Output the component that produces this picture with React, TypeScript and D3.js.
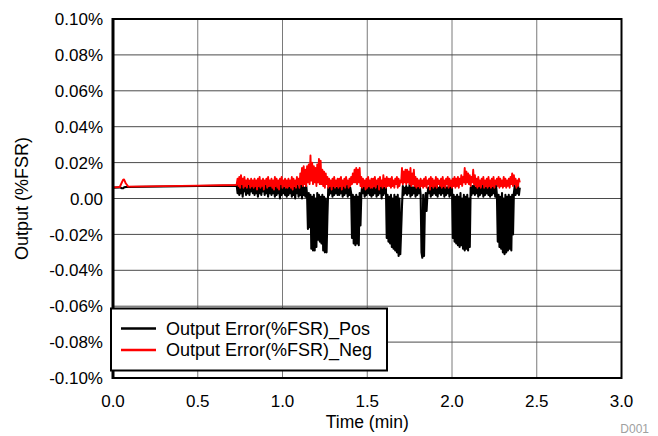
import React from "react";
import * as d3 from "d3";

// ---- axis ticks ----
const xTicks = [0, 0.5, 1.0, 1.5, 2.0, 2.5, 3.0];
const yTicks = [0.1, 0.08, 0.06, 0.04, 0.02, 0, -0.02, -0.04, -0.06, -0.08, -0.1];
const yTickLabels = ["0.10%", "0.08%", "0.06%", "0.04%", "0.02%", "0.00", "-0.02%", "-0.04%", "-0.06%", "-0.08%", "-0.10%"];
const seriesNames = ["Output Error(%FSR)_Pos", "Output Error(%FSR)_Neg"];

// ---- quiet start (time in min, value in %FSR) ----
const headTime = [0, 0.04, 0.05, 0.06, 0.065, 0.075, 0.09, 0.3, 0.5, 0.725];
const headPos = [0.006, 0.0062, 0.0058, 0.0057, 0.0062, 0.0064, 0.0064, 0.0067, 0.007, 0.0072];
const headNeg = [0.0062, 0.0064, 0.0085, 0.0105, 0.0106, 0.0085, 0.0066, 0.0069, 0.0072, 0.0075];

// ---- noisy section, sampled every 0.005 min starting at 0.73 min ----
const noiseStart = 0.73;
const noiseStep = 0.005;
const noisePos = [
  0.007, 0.003, 0.008, 0.002, 0.006, 0.003, 0.008, 0.001, 0.007, 0.004, 0.008, 0.002, 0.006, 0.003, 0.009, 0.002, 0.007, 0.004, 0.008, 0.003,
  0.006, 0.002, 0.008, 0.003, 0.007, 0.001, 0.006, 0.003, 0.008, 0.002, 0.007, 0.004, 0.006, 0.002, 0.008, 0.003, 0.007, 0.001, 0.006, 0.003,
  0.008, 0.002, 0.007, 0.003, 0.006, 0.001, 0.008, 0.002, 0.007, 0.003, 0.006, 0.000, 0.008, 0.002, 0.007, 0.003, 0.006, 0.002, 0.008, 0.001,
  0.007, 0.002, 0.006, 0.003, 0.008, 0.001, 0.007, 0.002, 0.006, 0.000, 0.008, 0.003, 0.007, 0.001, 0.006, 0.002, 0.008, 0.000, 0.007, 0.002,
  0.006, 0.001, 0.007, 0.002, -0.017, 0.003, -0.016, 0.002, -0.028, 0.001, -0.029, 0.002, -0.029, 0.000, -0.027, 0.003, -0.023, 0.002, -0.024, 0.001,
  -0.025, 0.002, -0.029, 0.001, -0.030, 0.000, -0.030, -0.010, 0.006, 0.002, 0.007, 0.003, 0.006, 0.001, 0.008, 0.002, 0.007, 0.003, 0.006, 0.002,
  0.007, 0.002, 0.006, 0.003, 0.008, 0.001, 0.007, 0.002, 0.006, 0.003, 0.007, 0.001, 0.008, 0.002, 0.006, 0.003, -0.022, 0.002, -0.025, 0.001,
  -0.026, 0.002, -0.025, 0.001, -0.026, 0.003, -0.015, 0.002, 0.007, 0.003, 0.006, 0.001, 0.008, 0.002, 0.007, 0.003, 0.006, 0.002, 0.008, 0.001,
  0.007, 0.002, 0.006, 0.003, 0.008, 0.001, 0.007, 0.002, 0.006, 0.003, 0.007, 0.000, 0.008, 0.002, 0.006, 0.003, 0.007, -0.022, 0.002, -0.024,
  0.001, -0.025, 0.002, -0.027, 0.000, -0.028, 0.002, -0.029, 0.001, -0.030, 0.002, -0.032, 0.000, -0.031, -0.018, -0.004, 0.007, 0.002, 0.006, 0.003,
  0.007, 0.002, 0.006, 0.003, 0.008, 0.001, 0.007, 0.002, 0.006, 0.003, 0.007, 0.001, 0.008, 0.002, 0.006, 0.003, 0.007, 0.002, -0.030, -0.033,
  0.002, -0.032, -0.005, 0.003, -0.007, 0.002, 0.006, 0.003, 0.007, 0.001, 0.008, 0.002, 0.006, 0.003, 0.007, 0.002, 0.008, 0.001, 0.006, 0.003,
  0.007, 0.002, 0.006, 0.003, 0.008, 0.001, 0.007, 0.002, 0.006, 0.003, 0.007, 0.001, 0.008, 0.002, 0.006, -0.022, 0.002, -0.024, 0.001, -0.025,
  0.002, -0.026, 0.001, -0.027, 0.003, -0.026, 0.000, -0.028, 0.002, -0.029, 0.001, -0.028, 0.002, -0.029, 0.000, -0.027, 0.006, 0.002, 0.007, 0.003,
  0.007, 0.002, 0.006, 0.003, 0.008, 0.001, 0.007, 0.002, 0.006, 0.003, 0.007, 0.001, 0.008, 0.002, 0.006, 0.003, 0.007, 0.002, 0.008, 0.001,
  0.007, 0.002, 0.006, 0.003, 0.008, 0.001, 0.007, 0.002, -0.024, 0.002, -0.027, 0.001, -0.028, 0.003, -0.030, 0.000, -0.031, 0.002, -0.030, 0.001,
  -0.029, 0.002, -0.028, 0.001, -0.029, 0.002, -0.020, 0.003, 0.007, 0.002, 0.006, 0.003, 0.007, 0.002, 0.006,
];
const noiseNeg = [
  0.008, 0.011, 0.007, 0.012, 0.006, 0.013, 0.008, 0.011, 0.006, 0.012, 0.007, 0.010, 0.006, 0.011, 0.008, 0.010, 0.006, 0.011, 0.007, 0.010,
  0.006, 0.011, 0.007, 0.010, 0.005, 0.011, 0.007, 0.012, 0.006, 0.010, 0.007, 0.011, 0.005, 0.010, 0.008, 0.011, 0.006, 0.012, 0.007, 0.010,
  0.007, 0.011, 0.006, 0.010, 0.005, 0.012, 0.007, 0.011, 0.006, 0.010, 0.005, 0.011, 0.008, 0.012, 0.006, 0.010, 0.007, 0.011, 0.006, 0.010,
  0.006, 0.011, 0.007, 0.010, 0.006, 0.012, 0.005, 0.011, 0.007, 0.010, 0.006, 0.012, 0.008, 0.011, 0.006, 0.014, 0.008, 0.017, 0.007, 0.018,
  0.008, 0.016, 0.007, 0.018, 0.009, 0.019, 0.008, 0.024, 0.010, 0.020, 0.008, 0.018, 0.009, 0.017, 0.007, 0.019, 0.009, 0.022, 0.008, 0.021,
  0.008, 0.016, 0.007, 0.015, 0.006, 0.014, 0.008, 0.012, 0.006, 0.011, 0.007, 0.010, 0.005, 0.011, 0.007, 0.012, 0.006, 0.010, 0.007, 0.011,
  0.006, 0.011, 0.007, 0.012, 0.005, 0.010, 0.007, 0.011, 0.006, 0.012, 0.008, 0.010, 0.006, 0.011, 0.007, 0.012, 0.008, 0.014, 0.009, 0.016,
  0.009, 0.017, 0.008, 0.016, 0.009, 0.017, 0.007, 0.012, 0.006, 0.011, 0.007, 0.010, 0.005, 0.011, 0.006, 0.012, 0.007, 0.010, 0.006, 0.011,
  0.006, 0.011, 0.007, 0.012, 0.006, 0.010, 0.008, 0.011, 0.005, 0.012, 0.007, 0.010, 0.006, 0.013, 0.007, 0.011, 0.006, 0.012, 0.007, 0.011,
  0.007, 0.011, 0.006, 0.012, 0.007, 0.010, 0.006, 0.011, 0.008, 0.012, 0.006, 0.011, 0.007, 0.010, 0.009, 0.017, 0.008, 0.015, 0.009, 0.016,
  0.008, 0.016, 0.009, 0.015, 0.008, 0.017, 0.007, 0.014, 0.008, 0.016, 0.007, 0.012, 0.006, 0.011, 0.007, 0.010, 0.006, 0.011, 0.007, 0.010,
  0.006, 0.011, 0.007, 0.012, 0.006, 0.010, 0.008, 0.011, 0.005, 0.012, 0.007, 0.011, 0.006, 0.010, 0.007, 0.012, 0.006, 0.011, 0.008, 0.010,
  0.007, 0.011, 0.006, 0.012, 0.007, 0.010, 0.006, 0.011, 0.008, 0.012, 0.006, 0.011, 0.007, 0.010, 0.006, 0.011, 0.007, 0.012, 0.006, 0.011,
  0.007, 0.012, 0.006, 0.011, 0.008, 0.013, 0.007, 0.012, 0.009, 0.017, 0.008, 0.015, 0.009, 0.014, 0.008, 0.013, 0.007, 0.012, 0.009, 0.016,
  0.008, 0.013, 0.007, 0.011, 0.006, 0.012, 0.007, 0.010, 0.006, 0.011, 0.008, 0.012, 0.006, 0.010, 0.007, 0.011, 0.006, 0.012, 0.007, 0.010,
  0.006, 0.011, 0.007, 0.012, 0.006, 0.010, 0.008, 0.011, 0.007, 0.012, 0.006, 0.011, 0.007, 0.010, 0.006, 0.012, 0.007, 0.011, 0.006, 0.010,
  0.007, 0.011, 0.006, 0.012, 0.008, 0.014, 0.007, 0.013, 0.008, 0.011, 0.006, 0.010, 0.007, 0.011, 0.009,
];

const W = 658;
const H = 436;
const M = { left: 113, right: 621.5, top: 19, bottom: 378 };
const FONT = "Arial, 'Liberation Sans', sans-serif";

function buildSeries(head: number[], noise: number[]): [number, number][] {
  const pts: [number, number][] = head.map((v, i) => [headTime[i], v]);
  noise.forEach((v, i) => pts.push([noiseStart + i * noiseStep, v]));
  return pts;
}

export default function App() {
  const x = d3.scaleLinear().domain([0, 3]).range([M.left, M.right]);
  const y = d3.scaleLinear().domain([-0.1, 0.1]).range([M.bottom, M.top]);
  const line = d3
    .line<[number, number]>()
    .x((d) => x(d[0]))
    .y((d) => y(d[1]));
  const pos = buildSeries(headPos, noisePos);
  const neg = buildSeries(headNeg, noiseNeg);

  const legX = 111;
  const legY = 308.5;
  const legW = 276;
  const legH = 62;

  return (
    <svg
      width={W}
      height={H}
      style={{ position: "absolute", left: 0, top: 0, background: "#fff" }}
      fontFamily={FONT}
    >
      <rect x={0} y={0} width={W} height={H} fill="#fff" />
      {/* grid */}
      {xTicks.slice(1, -1).map((t) => (
        <line key={"vx" + t} x1={x(t)} x2={x(t)} y1={M.top} y2={M.bottom} stroke="#7a7a7a" strokeWidth={1} />
      ))}
      {yTicks.slice(1, -1).map((t) => (
        <line key={"hy" + t} x1={M.left} x2={M.right} y1={y(t)} y2={y(t)} stroke="#4a4a4a" strokeWidth={1} />
      ))}
      {/* data */}
      <path d={line(pos) || ""} fill="none" stroke="#000" strokeWidth={2.1} strokeLinejoin="round" />
      <path d={line(neg) || ""} fill="none" stroke="#ff0000" strokeWidth={1.9} strokeLinejoin="round" />
      {/* frame */}
      <rect x={M.left} y={M.top} width={M.right - M.left} height={M.bottom - M.top} fill="none" stroke="#000" strokeWidth={2} />
      <line x1={M.left} x2={M.left} y1={M.top - 1} y2={M.bottom + 1} stroke="#000" strokeWidth={3} />
      {/* y ticks */}
      {yTicks.map((t, i) => (
        <text key={"yl" + t} x={103} y={y(t)} dy="0.36em" textAnchor="end" fontSize={17} fill="#000">
          {yTickLabels[i]}
        </text>
      ))}
      {/* x ticks */}
      {xTicks.map((t) => (
        <text key={"xl" + t} x={x(t)} y={407} textAnchor="middle" fontSize={17} fill="#000">
          {t.toFixed(1)}
        </text>
      ))}
      <text x={(M.left + M.right) / 2} y={428} textAnchor="middle" fontSize={17.5} fill="#000">
        Time (min)
      </text>
      <text
        transform={`translate(28,${(M.top + M.bottom) / 2}) rotate(-90)`}
        textAnchor="middle"
        fontSize={18}
        fill="#000"
      >
        Output (%FSR)
      </text>
      {/* legend */}
      <rect x={legX} y={legY} width={legW} height={legH} fill="#fff" stroke="#000" strokeWidth={2} />
      <line x1={121} x2={156} y1={328.5} y2={328.5} stroke="#000" strokeWidth={2.5} />
      <line x1={121} x2={156} y1={350} y2={350} stroke="#ff0000" strokeWidth={2.5} />
      <text x={166} y={335} fontSize={18} fill="#000">
        {seriesNames[0]}
      </text>
      <text x={166} y={356} fontSize={18} fill="#000">
        {seriesNames[1]}
      </text>
      <text x={649} y={433} textAnchor="end" fontSize={12} fill="#a0a0a0">
        D001
      </text>
    </svg>
  );
}
